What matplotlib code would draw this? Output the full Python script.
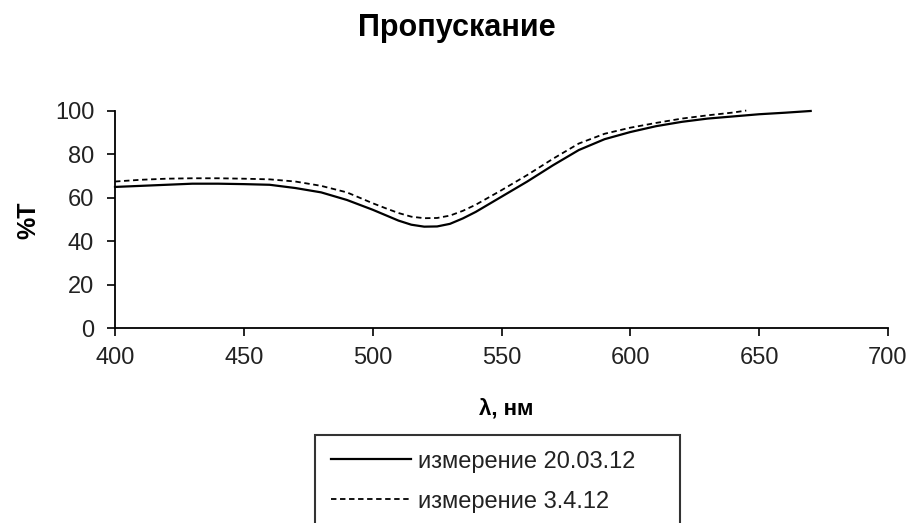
import matplotlib
matplotlib.use('Agg')
import matplotlib.pyplot as plt

wl_1 = [400, 410, 420, 430, 440, 450, 460, 470, 480, 490, 500, 505, 510, 515,
        520, 525, 530, 535, 540, 550, 560, 570, 580, 590, 600, 610, 620, 630,
        640, 650, 660, 670]
t_1 = [65.0, 65.5, 66.0, 66.5, 66.5, 66.3, 66.0, 64.5, 62.5, 59.0, 54.5, 52.0,
       49.5, 47.6, 46.7, 46.8, 48.0, 50.5, 53.5, 60.5, 67.5, 75.0, 82.0, 87.0,
       90.3, 93.0, 95.0, 96.5, 97.5, 98.5, 99.2, 100.0]

wl_2 = [400, 410, 420, 430, 440, 450, 460, 470, 480, 490, 500, 505, 510, 515,
        520, 525, 530, 535, 540, 550, 560, 570, 580, 590, 600, 610, 620, 630,
        640, 645]
t_2 = [67.5, 68.3, 68.8, 69.0, 69.0, 68.8, 68.5, 67.5, 65.5, 62.5, 57.5, 55.2,
       53.0, 51.3, 50.6, 50.7, 51.8, 54.0, 56.8, 63.5, 70.5, 78.0, 85.0, 89.5,
       92.3, 94.5, 96.5, 98.0, 99.3, 100.2]

label_1 = 'измерение 20.03.12'
label_2 = 'измерение 3.4.12'
x_ticks = [400, 450, 500, 550, 600, 650, 700]
y_ticks = [0, 20, 40, 60, 80, 100]

plt.rcParams['font.family'] = ['Liberation Sans', 'DejaVu Sans']

fig = plt.figure(figsize=(9.18, 5.23), dpi=100)
ax = fig.add_axes([0.1253, 0.3728, 0.842, 0.415])

ax.plot(wl_1, t_1, color='black', linewidth=1.6, label=label_1, clip_on=False)
ax.plot(wl_2, t_2, color='black', linewidth=1.3, dashes=(3, 2), label=label_2, clip_on=False)

ax.set_xlim(400, 700)
ax.set_ylim(0, 100)
ax.set_xticks(x_ticks)
ax.set_yticks(y_ticks)
ax.tick_params(axis='both', labelsize=17, length=6, width=1.2, direction='out',
               colors='black', labelcolor='#222222')
ax.tick_params(axis='x', pad=8)
ax.tick_params(axis='y', pad=9)

for side in ('top', 'right'):
    ax.spines[side].set_visible(False)
for side in ('left', 'bottom'):
    ax.spines[side].set_linewidth(1.3)
    ax.spines[side].set_color('black')

fig.text(0.498, 0.946, 'Пропускание', ha='center', va='center',
         fontsize=22, fontweight='bold')
fig.text(0.551, 0.218, 'λ, нм', ha='center', va='center',
         fontsize=16, fontweight='bold')
fig.text(0.031, 0.579, '%T', ha='center', va='center', rotation=90,
         fontsize=18, fontweight='bold')

leg = fig.legend(loc='upper left', mode='expand', fontsize=17, frameon=True,
                 fancybox=False, edgecolor='black', borderpad=0.66,
                 labelspacing=0.76, handlelength=3.4, handletextpad=0.3,
                 borderaxespad=0)
leg.get_frame().set_linewidth(1.5)
for t in leg.get_texts():
    t.set_color('#222222')
# box top and width
leg.set_bbox_to_anchor((0.3431, -0.5, 0.3976, 0.6683), transform=fig.transFigure)

fig.savefig('out.png', dpi=100)
